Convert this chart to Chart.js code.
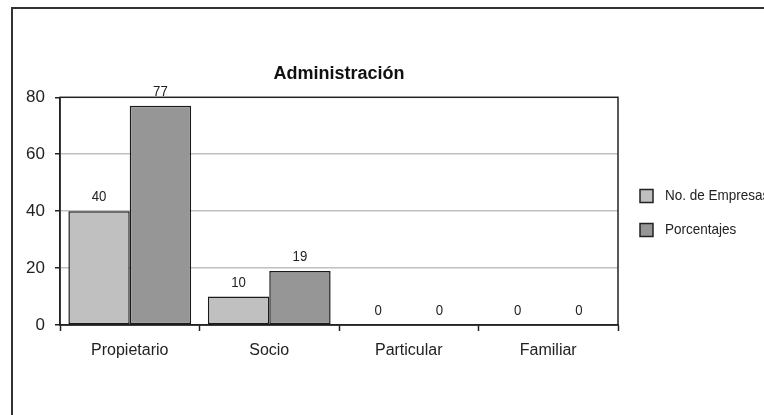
<!DOCTYPE html>
<html>
<head>
<meta charset="utf-8">
<script src="https://cdn.jsdelivr.net/npm/chart.js@4"></script>
<style>
  html, body { margin: 0; padding: 0; background: #fff; overflow: hidden; }
  #frame { position: absolute; left: 11px; top: 7px; width: 900px; height: 600px;
           border-left: 2px solid #333; border-top: 2px solid #333; }
  #c { position: absolute; left: 0; top: 0; }
</style>
</head>
<body>
<div id="frame"></div>
<canvas id="c" width="764" height="415"></canvas>
<script>
// Chart data
const categories = ['Propietario', 'Socio', 'Particular', 'Familiar'];
const empresas = [40, 10, 0, 0];
const porcentajes = [77, 19, 0, 0];
const seriesNames = ['No. de Empresas', 'Porcentajes'];
const yTicks = [0, 20, 40, 60, 80];

const FONT = "'Liberation Sans Narrow', 'Arial Narrow', 'Liberation Sans', Arial, sans-serif";
const TEXT = '#222';

// Box around the plot area (top and right edges included)
const plotFrame = {
  id: 'plotFrame',
  beforeDatasetsDraw(chart) {
    const { ctx, chartArea: a } = chart;
    ctx.save();
    ctx.strokeStyle = '#222';
    ctx.lineWidth = 1.5;
    ctx.strokeRect(a.left, a.top, a.right - a.left, a.bottom - a.top);
    ctx.restore();
  }
};

// Condensed text: draw with a slight horizontal squeeze
function narrowText(ctx, text, x, y, squeeze) {
  ctx.save();
  ctx.translate(x, y);
  ctx.scale(squeeze, 1);
  ctx.fillText(text, 0, 0);
  ctx.restore();
}

// Value labels above each bar
const valueLabels = {
  id: 'valueLabels',
  afterDatasetsDraw(chart) {
    const { ctx } = chart;
    ctx.save();
    ctx.font = '15px ' + FONT;
    ctx.fillStyle = TEXT;
    ctx.textAlign = 'center';
    ctx.textBaseline = 'alphabetic';
    chart.data.datasets.forEach((ds, di) => {
      chart.getDatasetMeta(di).data.forEach((el, i) => {
        narrowText(ctx, String(ds.data[i]), el.x, el.y - 10, 0.88);
      });
    });
    ctx.restore();
  }
};

// Legend on the right
const sideLegend = {
  id: 'sideLegend',
  afterDraw(chart) {
    const { ctx } = chart;
    const rows = [196, 230];
    ctx.save();
    ctx.font = '15px ' + FONT;
    ctx.textBaseline = 'middle';
    ctx.textAlign = 'left';
    chart.data.datasets.forEach((ds, i) => {
      const y = rows[i];
      ctx.fillStyle = ds.backgroundColor;
      ctx.fillRect(640, y - 6.5, 13, 13);
      ctx.strokeStyle = '#222';
      ctx.lineWidth = 1.5;
      ctx.strokeRect(640, y - 6.5, 13, 13);
      ctx.fillStyle = TEXT;
      narrowText(ctx, ds.label, 665, y, 0.9);
    });
    ctx.restore();
  }
};

new Chart(document.getElementById('c'), {
  type: 'bar',
  data: {
    labels: categories,
    datasets: [
      { label: seriesNames[0], data: empresas, backgroundColor: '#c0c0c0',
        borderColor: '#1a1a1a', borderWidth: 1.5, borderSkipped: false },
      { label: seriesNames[1], data: porcentajes, backgroundColor: '#969696',
        borderColor: '#1a1a1a', borderWidth: 1.5, borderSkipped: false }
    ]
  },
  options: {
    responsive: false,
    animation: false,
    datasets: { bar: { categoryPercentage: 0.88, barPercentage: 1.0 } },
    layout: { padding: { left: 10, right: 146, top: 0, bottom: 50 } },
    plugins: {
      legend: { display: false },
      tooltip: { enabled: false },
      title: {
        display: true,
        text: 'Administración',
        fullSize: false,
        color: '#111',
        font: { family: FONT, size: 18, weight: 'bold' },
        padding: { top: 63.2, bottom: 12.5 }
      }
    },
    scales: {
      x: {
        afterFit(s) { s.height = 40; },
        grid: { offset: true, drawOnChartArea: false, tickLength: 6, tickColor: '#222', tickWidth: 1.5 },
        border: { color: '#222', width: 1.5 },
        ticks: { color: TEXT, font: { family: FONT, size: 16 }, padding: 10 }
      },
      y: {
        min: 0, max: 80,
        afterFit(s) { s.width = 50; },
        afterBuildTicks(s) { s.ticks = yTicks.map(v => ({ value: v })); },
        grid: {
          color: ctx => (ctx.tick && (ctx.tick.value === 0 || ctx.tick.value === 80)) ? 'rgba(0,0,0,0)' : '#c0c0c0',
          lineWidth: 1.5,
          tickLength: 5, tickColor: '#222', tickWidth: 1.5
        },
        border: { color: '#222', width: 1.5 },
        ticks: { color: TEXT, font: { family: FONT, size: 17 }, padding: 10 }
      }
    }
  },
  plugins: [plotFrame, valueLabels, sideLegend]
});
</script>
</body>
</html>
